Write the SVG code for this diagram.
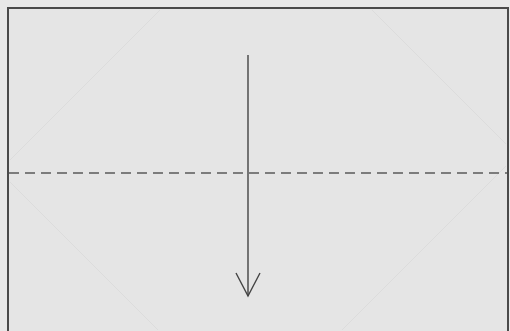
<svg xmlns="http://www.w3.org/2000/svg" width="510" height="331" viewBox="0 0 510 331">
<style>
.crease{fill:none;stroke:#dcdcdc;stroke-width:1}
.frame{fill:none;stroke:#4a4a4a;stroke-width:2}
.fold{fill:none;stroke:#5a5a5a;stroke-width:1.3;stroke-dasharray:10 6}
.arrow{fill:none;stroke:#444;stroke-width:1.4;stroke-linejoin:miter}
</style>
<rect x="0" y="0" width="510" height="331" fill="#e8e8e8"/>
<g id="paper">
<rect x="8" y="8" width="500" height="330" fill="#e5e5e5"/>
<path class="crease" d="M10,160 L160,10 M372,10 L506,144 M10,182 L158,330 M342,330 L506,166"/>
<path class="frame" d="M8,340 L8,8 L508,8 L508,340"/>
</g>
<g id="connectors">
<line class="fold" x1="9" y1="173" x2="507" y2="173"/>
<line class="arrow" x1="248" y1="55" x2="248" y2="296"/>
<polyline class="arrow" points="236,273 248,296 260,273"/>
</g>
</svg>
